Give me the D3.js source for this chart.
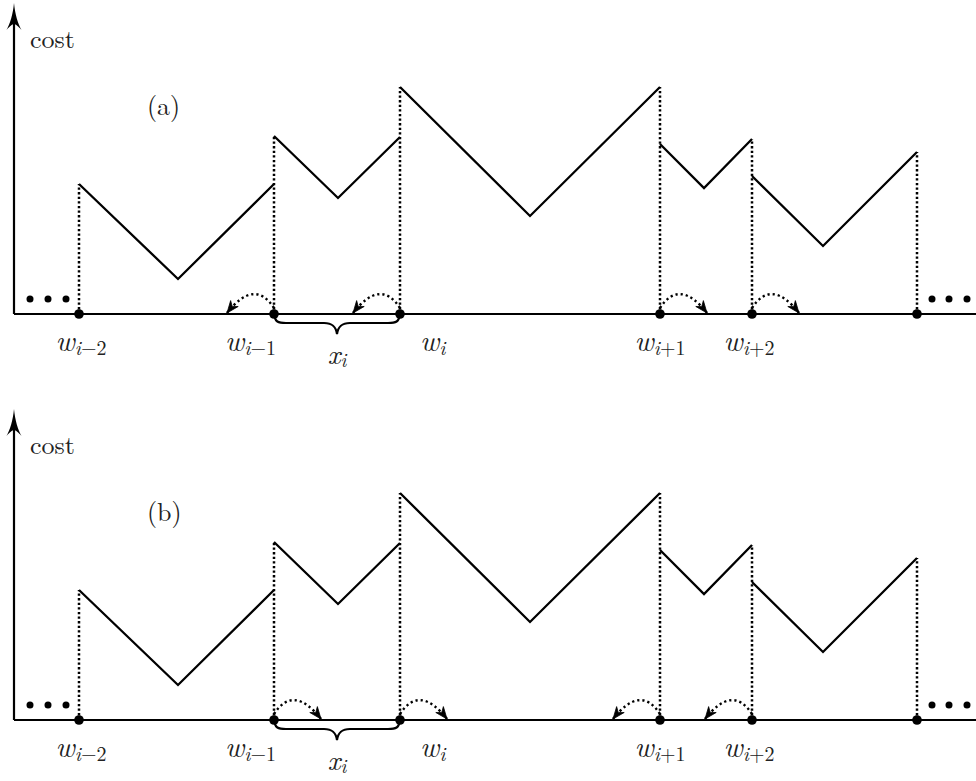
<!DOCTYPE html>
<html>
<head>
<meta charset="utf-8">
<script src="https://cdn.jsdelivr.net/npm/d3@7"></script>
<style>
  html, body { margin: 0; padding: 0; background: #fff; }
  svg { display: block; }
</style>
</head>
<body>
<svg id="chart" width="976" height="781"></svg>
<script>
// ---- data (abstract units) ----
const wPos      = [6.5, 26.0, 38.6, 64.6, 73.8, 90.3];   // breakpoints w
const wSubs     = ["i\u22122", "i\u22121", "i", "i+1", "i+2", null];
const segLeft   = [13.0, 17.8, 22.7, 17.0, 13.8];         // cost at left end of each piece
const segMinX   = [16.4, 32.4, 51.6, 69.0, 80.9];         // position of each piece's minimum
const segMin    = [3.5, 11.6, 9.8, 12.6, 6.8];            // minimum cost of each piece
const segRight  = [13.0, 17.7, 22.7, 17.5, 16.2];         // cost at right end of each piece
const moveA     = [0, -1, -1, 1, 1, 0];                    // shift direction of each w, panel (a)
const moveB     = [0, 1, 1, -1, -1, 0];                    // shift direction of each w, panel (b)
const moveLen   = 4.7;
const dotsLeftX  = [1.6, 3.4, 5.2];
const dotsRightX = [91.8, 93.5, 95.3];
const dotsY      = 1.5;
const panelNames = ["(a)", "(b)"];
const axisLabel  = "cost";

const FONT = "Latin Modern Roman";

// ---- layout ----
const svg = d3.select("#chart");
const x = d3.scaleLinear().domain([0, 96.2]).range([14, 976]);
const panels = [
  { name: panelNames[0], base: 314, top: 3,   moves: moveA },
  { name: panelNames[1], base: 720, top: 409, moves: moveB }
];

panels.forEach(p => {
  const y = d3.scaleLinear().domain([0, 31.1]).range([p.base, p.top]);
  const g = svg.append("g");

  // dotted verticals
  const vtop = wPos.map((w, i) => Math.max(i > 0 ? segRight[i - 1] : 0, i < segLeft.length ? segLeft[i] : 0));
  g.selectAll("line.vd").data(wPos).join("line")
    .attr("x1", d => x(d)).attr("x2", d => x(d))
    .attr("y1", y(0)).attr("y2", (d, i) => y(vtop[i]))
    .attr("stroke", "#000").attr("stroke-width", 2.5)
    .attr("stroke-dasharray", "2.3 2.3");

  // cost pieces
  const line = d3.line().x(d => x(d[0])).y(d => y(d[1]));
  const pieces = segLeft.map((v, i) => [[wPos[i], v], [segMinX[i], segMin[i]], [wPos[i + 1], segRight[i]]]);
  g.selectAll("path.piece").data(pieces).join("path")
    .attr("d", line).attr("fill", "none").attr("stroke", "#000")
    .attr("stroke-width", 2.3).attr("stroke-linejoin", "miter");

  // axes
  g.append("line").attr("x1", x(0)).attr("x2", x(96.2)).attr("y1", y(0)).attr("y2", y(0))
    .attr("stroke", "#000").attr("stroke-width", 2.2);
  g.append("line").attr("x1", x(0)).attr("x2", x(0)).attr("y1", y(0)).attr("y2", y(31.1) + 12)
    .attr("stroke", "#000").attr("stroke-width", 2.2);
  const ax = x(0), at = y(31.1);
  g.append("path")
    .attr("d", `M${ax},${at} C${ax + 1},${at + 11} ${ax + 4},${at + 21} ${ax + 7.5},${at + 27} C${ax + 4},${at + 23} ${ax + 2},${at + 21.5} ${ax},${at + 21} C${ax - 2},${at + 21.5} ${ax - 4},${at + 23} ${ax - 7.5},${at + 27} C${ax - 4},${at + 21} ${ax - 1},${at + 11} ${ax},${at} Z`)
    .attr("fill", "#000");

  // ellipsis dots
  g.selectAll("circle.dl").data(dotsLeftX.concat(dotsRightX)).join("circle")
    .attr("cx", d => x(d)).attr("cy", y(dotsY)).attr("r", 3.5).attr("fill", "#000");

  // shift arrows (dotted arcs)
  const arcs = wPos.map((w, i) => ({ w, dir: p.moves[i] })).filter(d => d.dir !== 0);
  arcs.forEach(a => {
    const sx = x(a.w), sy = y(0) - 6;
    const tx = x(a.w + a.dir * moveLen), ty = y(0) - 1;
    const cx = (sx + tx) / 2 - a.dir * 4, cy = y(0) - 36;
    g.append("path")
      .attr("d", `M${sx},${sy} Q${cx},${cy} ${tx},${ty}`)
      .attr("fill", "none").attr("stroke", "#000").attr("stroke-width", 2.4)
      .attr("stroke-dasharray", "2.2 3");
    // arrowhead
    const ang = Math.atan2(ty - cy, tx - cx);
    const L = 12, W = 4.8;
    const bx = tx - L * Math.cos(ang), by = ty - L * Math.sin(ang);
    const nx = -Math.sin(ang) * W, ny = Math.cos(ang) * W;
    const mx = tx - L * 0.7 * Math.cos(ang), my = ty - L * 0.7 * Math.sin(ang);
    g.append("path")
      .attr("d", `M${tx},${ty} L${bx + nx},${by + ny} L${mx},${my} L${bx - nx},${by - ny} Z`)
      .attr("fill", "#000").attr("stroke", "#000").attr("stroke-width", 0.8)
      .attr("stroke-linejoin", "miter");
  });

  // points
  g.selectAll("circle.pt").data(wPos).join("circle")
    .attr("cx", d => x(d)).attr("cy", y(0)).attr("r", 4.8).attr("fill", "#000");

  // brace under x_i (between w_{i-1} and w_i)
  const b0 = x(wPos[1]), b1 = x(wPos[2]), bm = (b0 + b1) / 2, by0 = y(0);
  g.append("path")
    .attr("d", `M${b0},${by0} C${b0 + 1},${by0 + 8} ${b0 + 4},${by0 + 9} ${b0 + 12},${by0 + 9}
      L${bm - 13},${by0 + 9} C${bm - 4},${by0 + 9} ${bm - 1},${by0 + 13} ${bm},${by0 + 20}
      C${bm + 1},${by0 + 13} ${bm + 4},${by0 + 9} ${bm + 13},${by0 + 9}
      L${b1 - 12},${by0 + 9} C${b1 - 4},${by0 + 9} ${b1 - 1},${by0 + 8} ${b1},${by0}`)
    .attr("fill", "none").attr("stroke", "#000").attr("stroke-width", 2.2);

  // w labels
  const labelAnchor = ["middle", "end", "start", "middle", "middle"];
  const labelDx = [2, 2, 20, 0, -3];
  wSubs.forEach((s, i) => {
    if (s === null) return;
    const t = g.append("text")
      .attr("font-family", FONT).attr("fill", "#222")
      .attr("x", x(wPos[i]) + labelDx[i]).attr("y", y(0) + 37)
      .attr("text-anchor", labelAnchor[i]);
    t.append("tspan").attr("font-style", "italic").attr("font-size", 29).text("w");
    const sub = t.append("tspan").attr("font-size", 20).attr("dy", 4);
    s.split("").forEach(c => {
      sub.append("tspan").attr("font-style", c === "i" ? "italic" : "normal").text(c);
    });
  });

  // x_i label
  const xt = g.append("text").attr("font-family", FONT).attr("fill", "#222")
    .attr("x", bm).attr("y", y(0) + 50).attr("text-anchor", "middle");
  xt.append("tspan").attr("font-style", "italic").attr("font-size", 28).text("x");
  xt.append("tspan").attr("font-style", "italic").attr("font-size", 19).attr("dy", 3).text("i");

  // axis label and panel name
  g.append("text").attr("font-family", FONT).attr("fill", "#222")
    .attr("x", 30).attr("y", p.top + 45).attr("font-size", 26).text(axisLabel);
  g.append("text").attr("font-family", FONT).attr("fill", "#222")
    .attr("x", 147).attr("y", p.top + 112).attr("font-size", 26).text(p.name);
});
</script>
</body>
</html>
